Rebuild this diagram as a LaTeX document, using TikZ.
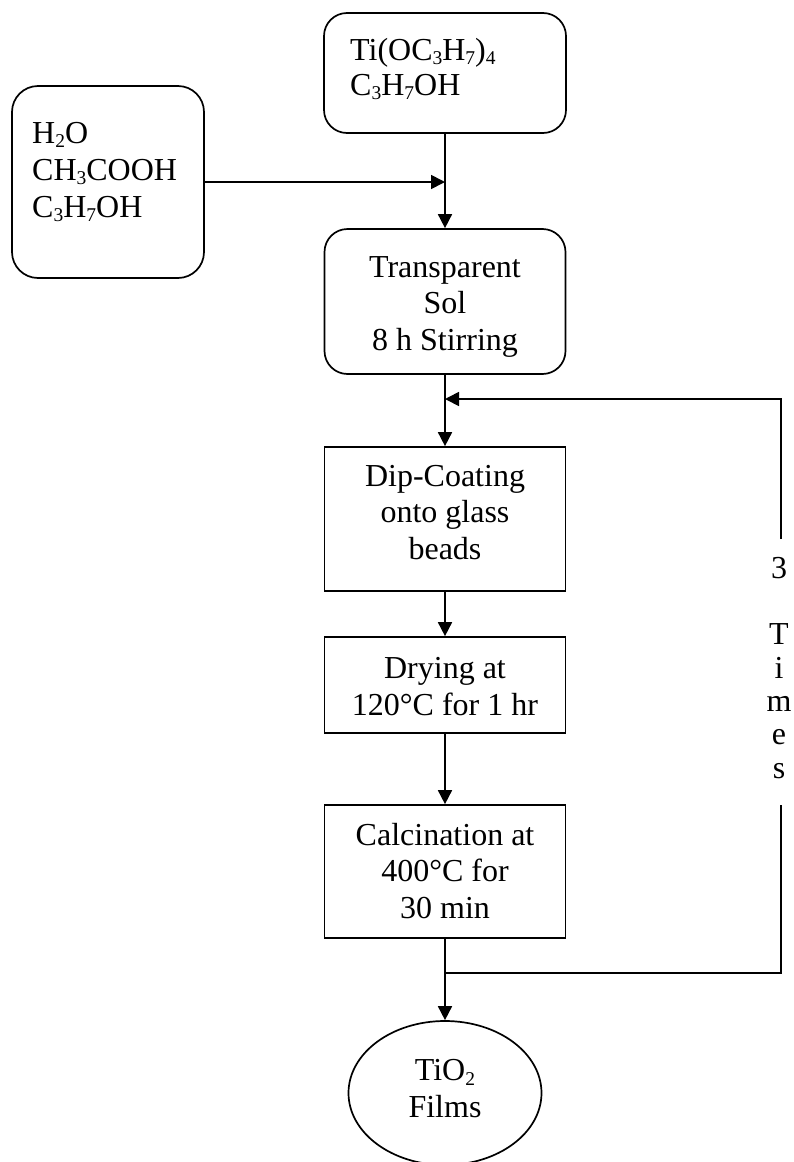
\documentclass[tikz,border=0pt]{standalone}
\usepackage{fontspec}
\setmainfont{Liberation Serif}
\usetikzlibrary{arrows.meta,shapes.geometric}
\newcommand\sbs[1]{\raisebox{-4.5pt}{\fontsize{19.5}{19.5}\selectfont #1}}
\begin{document}
\begin{tikzpicture}[x=1pt,y=-1pt,
  ln/.style={line width=1.7pt},
  box/.style={draw, ln, minimum width=241pt, inner sep=0pt},
  rbox/.style={box, rounded corners=23pt},
  txt/.style={font=\fontsize{32}{36.5}\selectfont, align=center, inner sep=0pt, anchor=base},
  ltxt/.style={font=\fontsize{32}{36.5}\selectfont, inner sep=0pt, anchor=base west},
  arr/.style={ln, -{Triangle[length=14pt,width=14pt]}}]
\useasboundingbox (0,0) rectangle (793,1162);

% boxes
\node[rbox, minimum width=242pt, minimum height=120pt] (ti) at (445,73) {};
\node[ltxt] (tiA) at (350,60) {Ti(OC\sbs{3}H\sbs{7})\sbs{4}};
\node[ltxt] (tiB) at (350,95) {C\sbs{3}H\sbs{7}OH};

\node[rbox, rounded corners=26pt, minimum width=192pt, minimum height=192pt] (h2o) at (108,182) {};
\node[ltxt] (hA) at (32,143) {H\sbs{2}O};
\node[ltxt] (hB) at (32,180) {CH\sbs{3}COOH};
\node[ltxt] (hC) at (32,217) {C\sbs{3}H\sbs{7}OH};

\node[rbox, minimum height=145pt] (sol) at (445,301.5) {};
\node[txt] (solT) at (445,350) {Transparent\\Sol\\8 h Stirring};

\node[box, minimum height=144pt] (dip) at (445,519) {};
\node[txt] (dipT) at (445,559) {Dip-Coating\\onto glass\\beads};

\node[box, minimum height=96pt] (dry) at (445,685) {};
\node[txt] (dryT) at (445,715) {Drying at\\120°C for 1 hr};

\node[box, minimum height=133pt] (calc) at (445,871.5) {};
\node[txt] (calcT) at (445,918) {Calcination at\\400°C for\\30 min};

\node[draw, ln, ellipse, minimum width=193pt, minimum height=144pt, inner sep=0pt] (film) at (445,1093) {};
\node[txt] (filmT) at (445,1117) {TiO\sbs{2}\\Films};

\node[txt, font=\fontsize{32}{33.3}\selectfont] (times) at (779,778) {3\\\mbox{}\\T\\i\\m\\e\\s};

% loop coordinates
\coordinate (jt) at (445,399);
\coordinate (jb) at (445,973);
\coordinate (rt) at (781,399);
\coordinate (rb) at (781,973);
\coordinate (gt) at (781,539);
\coordinate (gb) at (781,805);

% connectors
\draw[arr] (ti) -- (sol);
\draw[arr] (h2o.east) -- (h2o.east -| ti.south);
\draw[arr] (sol) -- (dip);
\draw[arr] (dip) -- (dry);
\draw[arr] (dry) -- (calc);
\draw[arr] (calc) -- (film);
\draw[ln] (jb) -- (rb) -- (gb);
\draw[arr] (gt) -- (rt) -- (jt);
\end{tikzpicture}
\end{document}
